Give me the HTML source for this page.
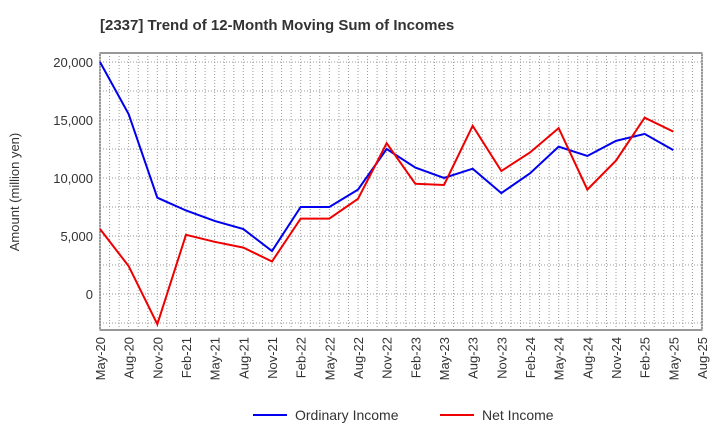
<!DOCTYPE html>
<html><head><meta charset="utf-8"><style>
body{margin:0;background:#fff;font-family:"Liberation Sans",sans-serif}
</style></head><body>
<svg id="chart" width="720" height="440" xmlns="http://www.w3.org/2000/svg">
<text x="100" y="30" font-size="15" font-weight="bold" fill="#333">[2337]  Trend of 12-Month Moving Sum of Incomes</text>
<g id="grid"></g><g id="axes"></g><g id="series"></g>
<text transform="translate(19,192) rotate(-90)" text-anchor="middle" font-size="13" fill="#333">Amount (million yen)</text>
<g>
<line x1="253" y1="415" x2="287" y2="415" stroke="#0000ee" stroke-width="2"/>
<text x="295" y="420" font-size="14" fill="#333">Ordinary Income</text>
<line x1="440" y1="415" x2="474" y2="415" stroke="#ee0000" stroke-width="2"/>
<text x="482" y="420" font-size="14" fill="#333">Net Income</text>
</g>
</svg>
<script>
const xLabels=["May-20","Aug-20","Nov-20","Feb-21","May-21","Aug-21","Nov-21","Feb-22","May-22","Aug-22","Nov-22","Feb-23","May-23","Aug-23","Nov-23","Feb-24","May-24","Aug-24","Nov-24","Feb-25","May-25","Aug-25"];
const yTicks=[0,5000,10000,15000,20000];
const ordinaryIncome=[20000,15500,8300,7200,6300,5600,3700,7500,7500,9000,12500,10900,10000,10800,8700,10400,12700,11900,13200,13800,12400];
const netIncome=[5600,2400,-2600,5100,4500,4000,2800,6500,6500,8200,13000,9500,9400,14500,10600,12200,14300,9000,11500,15200,14000];
const L=100,R=702,T=53,B=330;
const xs=i=>L+i*(R-L)/(xLabels.length-1);
const ys=v=>294-v*58/5000;
const NS="http://www.w3.org/2000/svg";
function mk(p,t,a){const e=document.createElementNS(NS,t);for(const k in a)e.setAttribute(k,a[k]);p.appendChild(e);return e;}
const grid=document.getElementById('grid'),axes=document.getElementById('axes'),ser=document.getElementById('series');
mk(grid,'rect',{x:L,y:T,width:R-L,height:B-T,fill:'#fff',stroke:'#333'});
for(let v=-2500;v<=20500;v+=2500){if(ys(v)<T||ys(v)>B)continue;const g=mk(grid,'line',{x1:L,x2:R,y1:ys(v),y2:ys(v),stroke:'#999','stroke-dasharray':'1,2'});}
for(let i=0;i<xLabels.length*3-2;i++){const x=L+i*(R-L)/((xLabels.length-1)*3);const g=mk(grid,'line',{x1:x,x2:x,y1:T,y2:B,stroke:'#999','stroke-dasharray':'1,2'});}
yTicks.forEach(v=>{const t=mk(axes,'text',{x:L-7,y:ys(v)+5,'text-anchor':'end','font-size':'13',fill:'#333'});t.textContent=v.toLocaleString('en-US');});
xLabels.forEach((s,i)=>{const t=mk(axes,'text',{transform:`translate(${xs(i)+5},${B+7}) rotate(-90)`,'text-anchor':'end','font-size':'13',fill:'#333'});t.textContent=s;});
function line(d,c,n){const p=mk(ser,'polyline',{points:d.map((v,i)=>xs(i)+','+ys(v)).join(' '),fill:'none',stroke:c,'stroke-width':2});}
line(ordinaryIncome,'#0000ee','ordinary-income-line');
line(netIncome,'#ee0000','net-income-line');
</script>
</body></html>
